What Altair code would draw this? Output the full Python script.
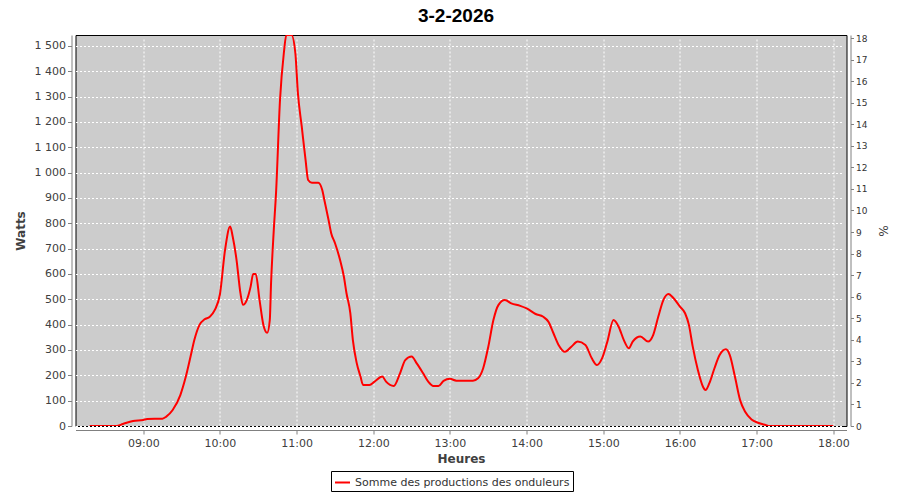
import altair as alt
import pandas as pd

title_text = "3-2-2026"
series_name = "Somme des productions des onduleurs"

times = ["08:18", "08:39", "08:44", "08:52", "09:00", "09:03", "09:15", "09:18", "09:23", "09:29",
         "09:33", "09:37", "09:40", "09:44", "09:48", "09:52", "09:56", "10:00", "10:04", "10:08",
         "10:10", "10:13", "10:16", "10:18", "10:21", "10:24", "10:26", "10:28", "10:31", "10:34",
         "10:37", "10:39", "10:40", "10:42", "10:44", "10:47", "10:50", "10:52", "10:56", "10:59",
         "11:01", "11:04", "11:07", "11:09", "11:12", "11:17", "11:20", "11:22", "11:25", "11:27",
         "11:30", "11:34", "11:37", "11:39", "11:42", "11:44", "11:47", "11:50", "11:52", "11:57",
         "12:01", "12:07", "12:10", "12:16", "12:21", "12:25", "12:30", "12:34", "12:39", "12:43",
         "12:47", "12:51", "12:55", "13:00", "13:05", "13:18", "13:22", "13:26", "13:30", "13:34",
         "13:38", "13:43", "13:48", "13:55", "14:00", "14:07", "14:13", "14:17", "14:21", "14:25",
         "14:30", "14:35", "14:40", "14:46", "14:51", "14:55", "14:59", "15:03", "15:08", "15:12",
         "15:16", "15:20", "15:23", "15:29", "15:35", "15:39", "15:43", "15:47", "15:51", "15:55",
         "16:00", "16:04", "16:07", "16:10", "16:14", "16:18", "16:20", "16:23", "16:27", "16:31",
         "16:36", "16:39", "16:43", "16:47", "16:51", "16:56", "17:01", "17:07", "17:10", "18:00"]
watts = [0, 0, 8, 20, 24, 28, 29, 37, 63, 122,
         189, 274, 340, 399, 421, 431, 458, 520, 695, 787,
         747, 655, 525, 478, 497, 550, 600, 600, 497, 399,
         368, 418, 564, 762, 930, 1287, 1472, 1543, 1543, 1472,
         1314, 1182, 1050, 971, 960, 960, 932, 885, 813, 762,
         722, 655, 589, 525, 446, 340, 249, 195, 162, 162,
         175, 195, 175, 158, 209, 260, 274, 247, 208, 175,
         158, 158, 178, 186, 179, 179, 188, 228, 313, 418,
         478, 497, 484, 474, 464, 442, 431, 412, 366, 320,
         293, 313, 333, 320, 267, 241, 267, 330, 418, 392,
         340, 307, 333, 353, 333, 359, 431, 497, 521, 504,
         471, 445, 399, 313, 221, 155, 142, 169, 228, 280,
         303, 280, 195, 103, 56, 26, 13, 4, 0, 0]

hour_ticks = list(range(9, 19))
watt_ticks = list(range(0, 1501, 100))
pct_ticks = list(range(0, 19))


def to_hours(s):
    h, m = s.split(":")
    return int(h) + int(m) / 60.0


df = pd.DataFrame({"h": [to_hours(t) for t in times], "w": watts, "serie": series_name})
pct_df = pd.DataFrame({"pct": pct_ticks})

x_scale = alt.Scale(domain=[8.116, 18.172], nice=False, zero=False)

line = alt.Chart(df).mark_line(interpolate="monotone", strokeWidth=2, clip=True).encode(
    x=alt.X("h:Q", scale=x_scale,
            axis=alt.Axis(title="Heures", values=hour_ticks,
                          labelExpr="(datum.value < 10 ? '0' : '') + datum.value + ':00'",
                          grid=True, titlePadding=5, labelPadding=3)),
    y=alt.Y("w:Q", scale=alt.Scale(domain=[0, 1543], nice=False),
            axis=alt.Axis(title="Watts", values=watt_ticks, grid=True,
                          labelExpr="replace(format(datum.value, ','), ',', ' ')",
                          titlePadding=7, labelPadding=2)),
    color=alt.Color("serie:N", scale=alt.Scale(range=["#ff0000"]),
                    legend=alt.Legend(title=None, orient="none", legendX=255.5, legendY=436,
                                      strokeColor="black", fillColor="white", padding=3,
                                      cornerRadius=0, symbolType="stroke", symbolSize=225,
                                      symbolStrokeWidth=2, labelFont="DejaVu Sans",
                                      labelFontSize=11, labelColor="#333333", labelOffset=4,
                                      labelLimit=0)),
)

right = alt.Chart(pct_df).mark_point(opacity=0).encode(
    y=alt.Y("pct:Q", scale=alt.Scale(domain=[0, 18.14], nice=False),
            axis=alt.Axis(orient="right", title="%", values=pct_ticks, grid=False,
                          labelFontSize=9, labelColor="#333333", tickSize=3,
                          titleFontWeight="normal", titleFontSize=12, titlePadding=9,
                          labelPadding=2)),
)

chart = alt.layer(line, right).resolve_scale(y="independent").properties(
    width=771, height=391,
    title=alt.TitleParams(text=title_text, font="Liberation Sans", fontSize=19, fontWeight="bold",
                          color="black", anchor="middle", offset=8, dx=-5),
    autosize=alt.AutoSizeParams(type="none"),
    padding={"left": 67.5, "top": 27, "right": 45, "bottom": 66},
).configure_view(
    fill="#cccccc", stroke="black", strokeWidth=1
).configure_axis(
    domainColor="#808080", tickColor="#808080", labelColor="#404040", titleColor="#404040",
    labelFont="DejaVu Sans", titleFont="DejaVu Sans", labelFontSize=11, titleFontSize=12,
    titleFontWeight="bold", tickSize=4, offset=4, gridColor="white", gridDash=[2, 2],
    gridOpacity=1, gridWidth=1, domainWidth=1
)

chart.save("out.html", embed_options={"renderer": "svg", "actions": False})
